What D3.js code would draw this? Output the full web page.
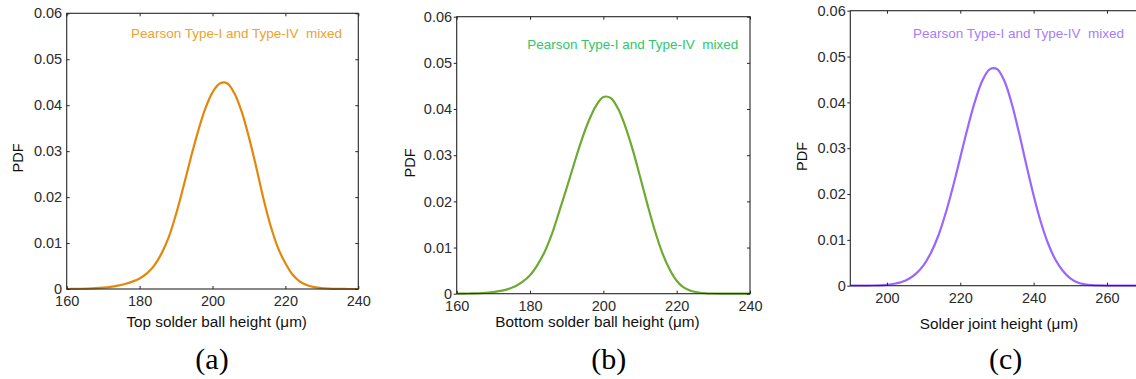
<!DOCTYPE html>
<html>
<head>
<meta charset="utf-8">
<script src="https://cdn.jsdelivr.net/npm/d3@7"></script>
<style>
  body { margin: 0; background: #fff; }
  svg { display: block; }
</style>
</head>
<body>
<svg id="chart"></svg>
<script>
const WIDTH = 1136;
const HEIGHT = 379;

// (a) top solder ball height, µm -> PDF
const heightsTop = [160, 162, 164, 166, 168, 170, 172, 174, 176, 178, 180, 182, 184, 186, 188, 190, 192, 194, 196, 198,
  200, 202, 204, 206, 208, 210, 212, 214, 216, 218, 220, 222, 224, 226, 228, 230, 232, 234, 236, 238, 240];
const pdfTop = [0, 0.00002, 0.00005, 0.0001, 0.00018, 0.0003, 0.00048, 0.00075, 0.0011, 0.0016, 0.0023, 0.0034, 0.0051, 0.0077, 0.0113, 0.0163, 0.0222, 0.0284, 0.0342, 0.0392,
  0.0428, 0.0447, 0.0448, 0.0426, 0.0386, 0.0330, 0.0265, 0.0196, 0.0136, 0.0089, 0.0056, 0.0031, 0.0016, 0.0008, 0.0004, 0.0002, 0.0001, 0.00004, 0.00001, 0, 0];

// (b) bottom solder ball height
const heightsBottom = [160, 162, 164, 166, 168, 170, 172, 174, 176, 178, 180, 182, 184, 186, 188, 190, 192, 194, 196, 198,
  200, 202, 204, 206, 208, 210, 212, 214, 216, 218, 220, 222, 224, 226, 228, 230, 232, 234, 236, 238, 240];
const pdfBottom = [0, 0.00002, 0.00005, 0.0001, 0.0002, 0.00035, 0.0006, 0.001, 0.0016, 0.0026, 0.004, 0.0062, 0.0091, 0.013, 0.0179, 0.0229, 0.0281, 0.0331, 0.0374, 0.0407,
  0.0426, 0.0424, 0.0401, 0.0362, 0.0312, 0.0254, 0.0194, 0.0138, 0.0090, 0.0054, 0.0028, 0.0013, 0.0006, 0.00026, 0.0001, 0.00004, 0.00001, 0, 0, 0, 0];

// (c) solder joint height
const heightsJoint = [190, 192, 194, 196, 198, 200, 202, 204, 206, 208, 210, 212, 214, 216, 218, 220, 222, 224, 226, 228,
  230, 232, 234, 236, 238, 240, 242, 244, 246, 248, 250, 252, 254, 256, 258, 260, 262, 264, 266, 268, 270, 272, 274, 276, 278, 280];
const pdfJoint = [0, 0.00001, 0.00002, 0.00004, 0.00009, 0.0002, 0.00042, 0.0008, 0.0015, 0.0027, 0.0045, 0.0072, 0.0109, 0.0158, 0.0216, 0.0280, 0.0344, 0.0402, 0.0447, 0.0472,
  0.0473, 0.0447, 0.0398, 0.0334, 0.0264, 0.0197, 0.0138, 0.0091, 0.0056, 0.0032, 0.0016, 0.0007, 0.0003, 0.00012, 0.00005, 0.00002, 0, 0, 0, 0, 0, 0, 0, 0, 0, 0];

const yTicks = [0, 0.01, 0.02, 0.03, 0.04, 0.05, 0.06];
const yTickLabels = ["0", "0.01", "0.02", "0.03", "0.04", "0.05", "0.06"];
const xTicksBall = [160, 180, 200, 220, 240];
const xTicksJoint = [200, 220, 240, 260];
const xTitles = ["Top solder ball height (\u03bcm)", "Bottom solder ball height (\u03bcm)", "Solder joint height (\u03bcm)"];
const panelLetters = ["(a)", "(b)", "(c)"];
const legendLabel = "Pearson Type-I and Type-IV  mixed";

const SANS = "'Liberation Sans', Arial, sans-serif";
const SERIF = "'Liberation Serif', 'Times New Roman', serif";
const AXIS_COLOR = "#262626";

// layout of the three panels (pixels)
const panels = [
  { xs: heightsTop, ys: pdfTop, domain: [160, 240], ticks: xTicksBall,
    left: 66.7, right: 358.3, top: 13.3, bottom: 289, leftOut: false,
    lineColor: "#e3870b", textColor: "#f0a02e",
    titleX: 216.7, titleY: 327, pdfX: 18, pdfY: 158, legendX: 342, legendY: 37.7, letterX: 212 },
  { xs: heightsBottom, ys: pdfBottom, domain: [160, 240], ticks: xTicksBall,
    left: 456.7, right: 750, top: 16.7, bottom: 293.7, leftOut: true,
    lineColor: "#6cab2f", textColor: "#2ec86c",
    titleX: 597.5, titleY: 327, pdfX: 410, pdfY: 163, legendX: 738.3, legendY: 49, letterX: 608.7 },
  { xs: heightsJoint, ys: pdfJoint, domain: [190, 280], ticks: xTicksJoint,
    left: 850.3, right: 1180.3, top: 10.7, bottom: 285.7, leftOut: true,
    lineColor: "#9966ff", textColor: "#a97cff",
    titleX: 999, titleY: 329, pdfX: 802, pdfY: 156.5, legendX: 1124, legendY: 38.3, letterX: 1005.7 }
];

const svg = d3.select("#chart")
  .attr("width", WIDTH)
  .attr("height", HEIGHT);

svg.append("rect")
  .attr("width", "100%")
  .attr("height", "100%")
  .attr("fill", "white");

panels.forEach((p, i) => {
  const x = d3.scaleLinear().domain(p.domain).range([p.left, p.right]);
  const y = d3.scaleLinear().domain([0, 0.06]).range([p.bottom, p.top]);
  const g = svg.append("g");

  // curve, clipped to the plot box
  const clipId = "clip" + i;
  g.append("clipPath").attr("id", clipId)
    .append("rect")
    .attr("x", p.left).attr("y", p.top - 2)
    .attr("width", p.right - p.left).attr("height", p.bottom - p.top + 4);

  const line = d3.line()
    .x((d, k) => x(p.xs[k]))
    .y(d => y(Math.max(0, d)))
    .curve(d3.curveCatmullRom.alpha(0.5));

  g.append("path")
    .datum(p.ys)
    .attr("clip-path", `url(#${clipId})`)
    .attr("d", line)
    .attr("fill", "none")
    .attr("stroke", p.lineColor)
    .attr("stroke-width", 2.2)
    .attr("stroke-linejoin", "round");

  // bottom axis with labels, ticks pointing in
  const bottomAxis = g.append("g")
    .attr("transform", `translate(0,${p.bottom})`)
    .call(d3.axisBottom(x).tickValues(p.ticks).tickSize(-3).tickPadding(7).tickFormat(d3.format("d")));

  // left axis
  const leftAxis = g.append("g")
    .attr("transform", `translate(${p.left},0)`)
    .call(d3.axisLeft(y).tickValues(yTicks).tickSize(p.leftOut ? 3 : -3).tickPadding(p.leftOut ? 1.6 : 4.5)
      .tickFormat((d, k) => yTickLabels[k]));

  // top and right axes, no labels
  const topAxis = g.append("g")
    .attr("transform", `translate(0,${p.top})`)
    .call(d3.axisTop(x).tickValues(p.ticks).tickSize(-3).tickFormat(""));
  const rightAxis = g.append("g")
    .attr("transform", `translate(${p.right},0)`)
    .call(d3.axisRight(y).tickValues(yTicks).tickSize(-3).tickFormat(""));

  [bottomAxis, leftAxis, topAxis, rightAxis].forEach(a => {
    a.select(".domain").remove();
    a.selectAll("line").attr("stroke", AXIS_COLOR).attr("stroke-width", 1);
    a.selectAll("text")
      .attr("fill", "#2b2b2b")
      .style("font-family", SANS)
      .style("font-size", "14.5px");
  });

  // frame
  g.append("rect")
    .attr("x", p.left).attr("y", p.top)
    .attr("width", p.right - p.left).attr("height", p.bottom - p.top)
    .attr("fill", "none")
    .attr("stroke", AXIS_COLOR)
    .attr("stroke-width", 1.1);

  // legend text
  g.append("text")
    .attr("x", p.legendX).attr("y", p.legendY)
    .attr("text-anchor", "end")
    .attr("fill", p.textColor)
    .style("font-family", SANS)
    .style("font-size", "13.5px")
    .style("white-space", "pre")
    .text(legendLabel);

  // axis titles
  g.append("text")
    .attr("x", p.titleX).attr("y", p.titleY)
    .attr("text-anchor", "middle")
    .attr("fill", "#111")
    .style("font-family", SANS)
    .style("font-size", "15.3px")
    .text(xTitles[i]);

  g.append("text")
    .attr("transform", `translate(${p.pdfX},${p.pdfY}) rotate(-90)`)
    .attr("text-anchor", "middle")
    .attr("dy", "0.35em")
    .attr("fill", "#111")
    .style("font-family", SANS)
    .style("font-size", "14.5px")
    .text("PDF");

  // panel letter
  g.append("text")
    .attr("x", p.letterX).attr("y", 369)
    .attr("text-anchor", "middle")
    .attr("fill", "#000")
    .style("font-family", SERIF)
    .style("font-size", "30px")
    .text(panelLetters[i]);
});
</script>
</body>
</html>
